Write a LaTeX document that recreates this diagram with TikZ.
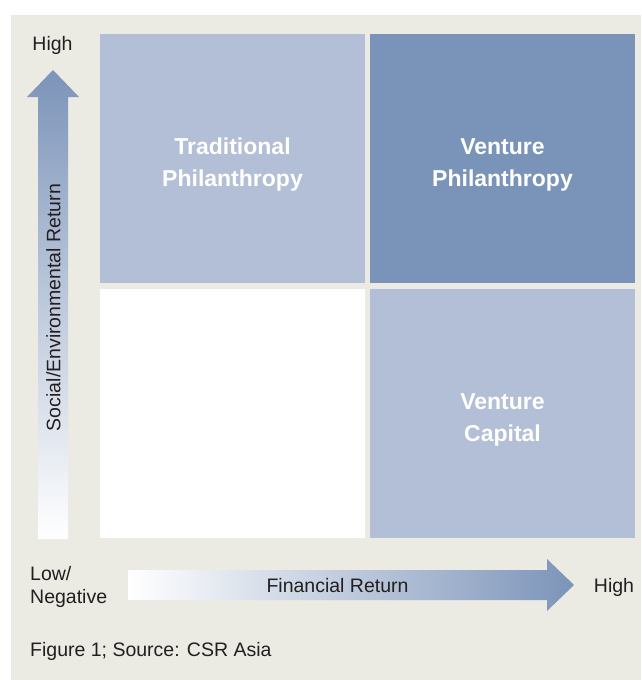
\documentclass[tikz,border=0pt]{standalone}
\usepackage{fontspec}
\setmainfont{Liberation Sans}
\usepackage{tikz}
\definecolor{paneltan}{RGB}{235,234,227}
\definecolor{celllight}{RGB}{179,191,214}
\definecolor{celldark}{RGB}{122,147,184}
\definecolor{axisblue}{RGB}{124,148,185}
\definecolor{inkgrey}{RGB}{35,31,32}

\begin{document}
\begin{tikzpicture}[x=1pt, y=-1pt,
    cell/.style={rectangle, minimum width=265pt, minimum height=249pt, inner sep=0pt, outer sep=0pt},
    lightcell/.style={cell, fill=celllight},
    darkcell/.style={cell, fill=celldark},
    emptycell/.style={cell, fill=white},
    celltext/.style={align=center, text=white, inner sep=0pt, font=\fontsize{23}{32}\selectfont\bfseries},
    axistext/.style={text=inkgrey, inner sep=0pt, font=\fontsize{19.5}{23}\selectfont}
]

% Panel
\fill[white] (0,0) rectangle (641,680);
\fill[paneltan] (11,15) rectangle (641,680);
\useasboundingbox (0,0) rectangle (641,680);

% Four quadrants
\node[lightcell] (trad) at (232.5,158.5) {};
\node[darkcell] (vphil) at (502.5,158.5) {};
\node[emptycell] (lowcell) at (232.5,413.5) {};
\node[lightcell] (vcap) at (502.5,413.5) {};

\node[celltext, yshift=-6pt] (tradtext) at (trad.center) {Traditional\\Philanthropy};
\node[celltext, yshift=-6pt] (vphiltext) at (vphil.center) {Venture\\Philanthropy};
\node[celltext, yshift=-6pt] (vcaptext) at (vcap.center) {Venture\\Capital};

% Axis arrows
\shade[bottom color=white, middle color=axisblue!66!white, top color=axisblue]
    (38,539) -- (38,97) -- (27,97) -- (53,70) -- (79,97) -- (68,97) -- (68,539) -- cycle;
\shade[left color=white, middle color=axisblue!55!white, right color=axisblue]
    (128,570) -- (547,570) -- (547,559) -- (574,585) -- (547,611) -- (547,600) -- (128,600) -- cycle;

% Axis labels
\node[axistext, anchor=base] (hightop) at (52.5,50) {High};
\node[axistext, rotate=90] (socialtext) at (53.5,307.5) {Social/Environmental Return};
\node[axistext, anchor=west, align=left] (lowneg) at (30,587) {Low/\\Negative};
\node[axistext, anchor=base] (fintext) at (337.5,592) {Financial Return};
\node[axistext, anchor=base] (highright) at (614,592) {High};

% Caption
\node[axistext, anchor=base west] (source) at (30,656) {Figure 1; Source: CSR Asia};

\end{tikzpicture}
\end{document}
